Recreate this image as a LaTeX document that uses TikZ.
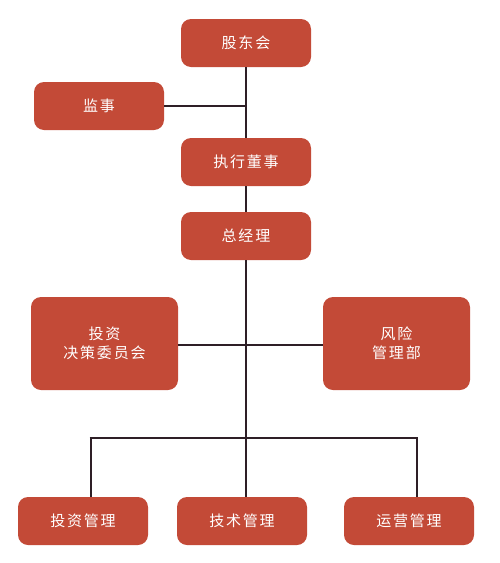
\documentclass[tikz,border=0pt]{standalone}
\usepackage{fontspec}
\newfontfamily\cjk[LetterSpace=12]{Noto Sans CJK SC}
\definecolor{boxred}{HTML}{C34A37}
\definecolor{linedark}{HTML}{2E1F26}
\begin{document}
\begin{tikzpicture}[x=1pt,y=-1pt,
  orgbox/.style={draw=none,fill=boxred,rounded corners=10pt,text=white,font=\cjk\fontsize{15}{19}\selectfont,align=center,inner sep=0pt},
  wide/.style={orgbox,minimum width=130pt,minimum height=48pt},
  big/.style={orgbox,minimum width=147pt,minimum height=93pt},
  conn/.style={draw=linedark,line width=2.8pt}]
\useasboundingbox (0,0) rectangle (500,563);
\node[wide] (gd) at (246,43) {股东会};
\node[wide] (js) at (99,106) {监事};
\node[wide] (zx) at (246,162) {执行董事};
\node[wide] (zj) at (246,236) {总经理};
\node[big] (tz) at (104.5,343.5) {投资\\决策委员会};
\node[big] (fx) at (396.5,343.5) {风险\\管理部};
\node[wide] (b1) at (83,521) {投资管理};
\node[wide] (b2) at (242,521) {技术管理};
\node[wide] (b3) at (409,521) {运营管理};
\coordinate (jjs) at (246,106);
\coordinate (jtz) at (246,345);
\coordinate (bus) at (246,438);
\coordinate (busl) at (91,438);
\coordinate (busr) at (417,438);
\draw[conn] (gd.south -| jjs) -- (zx.north -| jjs);
\draw[conn] (js.east) -- (jjs);
\draw[conn] (zx.south -| jjs) -- (zj.north -| jjs);
\draw[conn] (zj.south -| jjs) -- (b2.north -| jjs);
\draw[conn] (tz.east |- jtz) -- (fx.west |- jtz);
\draw[conn] ([xshift=-1.4pt]busl) -- ([xshift=1.4pt]busr);
\draw[conn] (busl) -- (b1.north -| busl);
\draw[conn] (busr) -- (b3.north -| busr);
\end{tikzpicture}
\end{document}
